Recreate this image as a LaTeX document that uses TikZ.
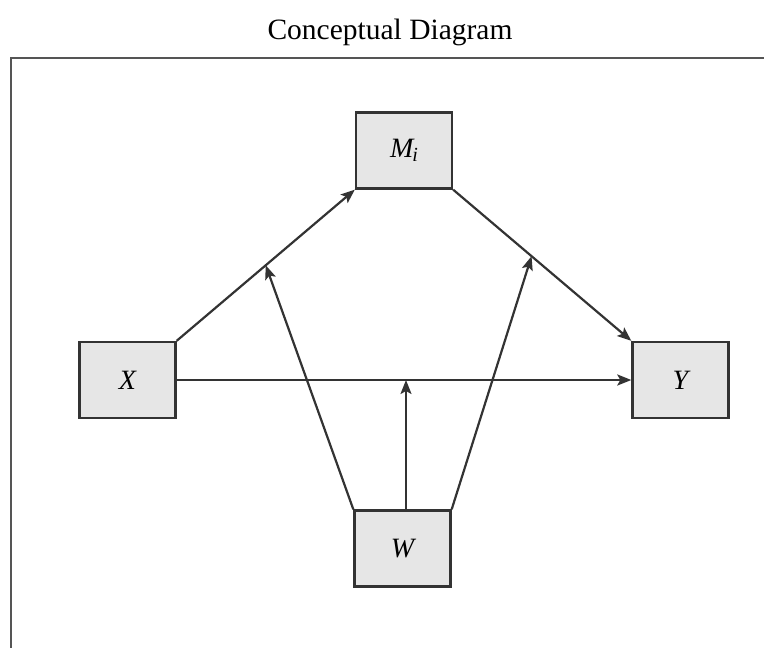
\documentclass[tikz,border=0pt]{standalone}
\usepackage{fontspec}
\setmainfont{Liberation Serif}
\usetikzlibrary{arrows.meta}
\definecolor{boxfill}{HTML}{E6E6E6}
\definecolor{linec}{HTML}{333333}
\definecolor{framec}{HTML}{555555}
\tikzset{
  varbox/.style={draw=linec, line width=2.4pt, fill=boxfill, minimum width=96pt, minimum height=76pt, inner sep=0pt, font=\fontsize{28}{28}\selectfont\itshape},
  conn/.style={draw=linec, line width=2.2pt, -{Stealth[length=14pt,width=11pt,inset=3pt]}},
}
\begin{document}
\begin{tikzpicture}[x=1pt,y=-1pt]
\useasboundingbox (0,0) rectangle (764,648);
\node[font=\fontsize{29.5}{29.5}\selectfont] (title) at (390,32) {Conceptual Diagram};
\draw[framec, line width=2.2pt] (11,660) -- (11,58) -- (780,58);
\node[varbox] (M) at (404,150.5) {M\kern-1pt\raisebox{-0.35ex}{\fontsize{20}{20}\selectfont i}};
\node[varbox] (X) at (127.5,380) {X};
\node[varbox] (Y) at (680.5,380) {Y};
\node[varbox] (W) at (402.5,548.5) {W};
\draw[conn] (X.north east) -- (M.south west) coordinate[pos=0.5] (xm);
\draw[conn] (M.south east) -- (Y.north west) coordinate[pos=0.44] (my);
\draw[conn] (X.east) -- (Y.west) coordinate[pos=0.5] (xy);
\draw[conn] (W.north west) -- (xm);
\draw[conn] (W.north east) -- (my);
\draw[conn] (W.north) ++(3.5,0) coordinate (wn) -- (wn |- xy);
\end{tikzpicture}
\end{document}
